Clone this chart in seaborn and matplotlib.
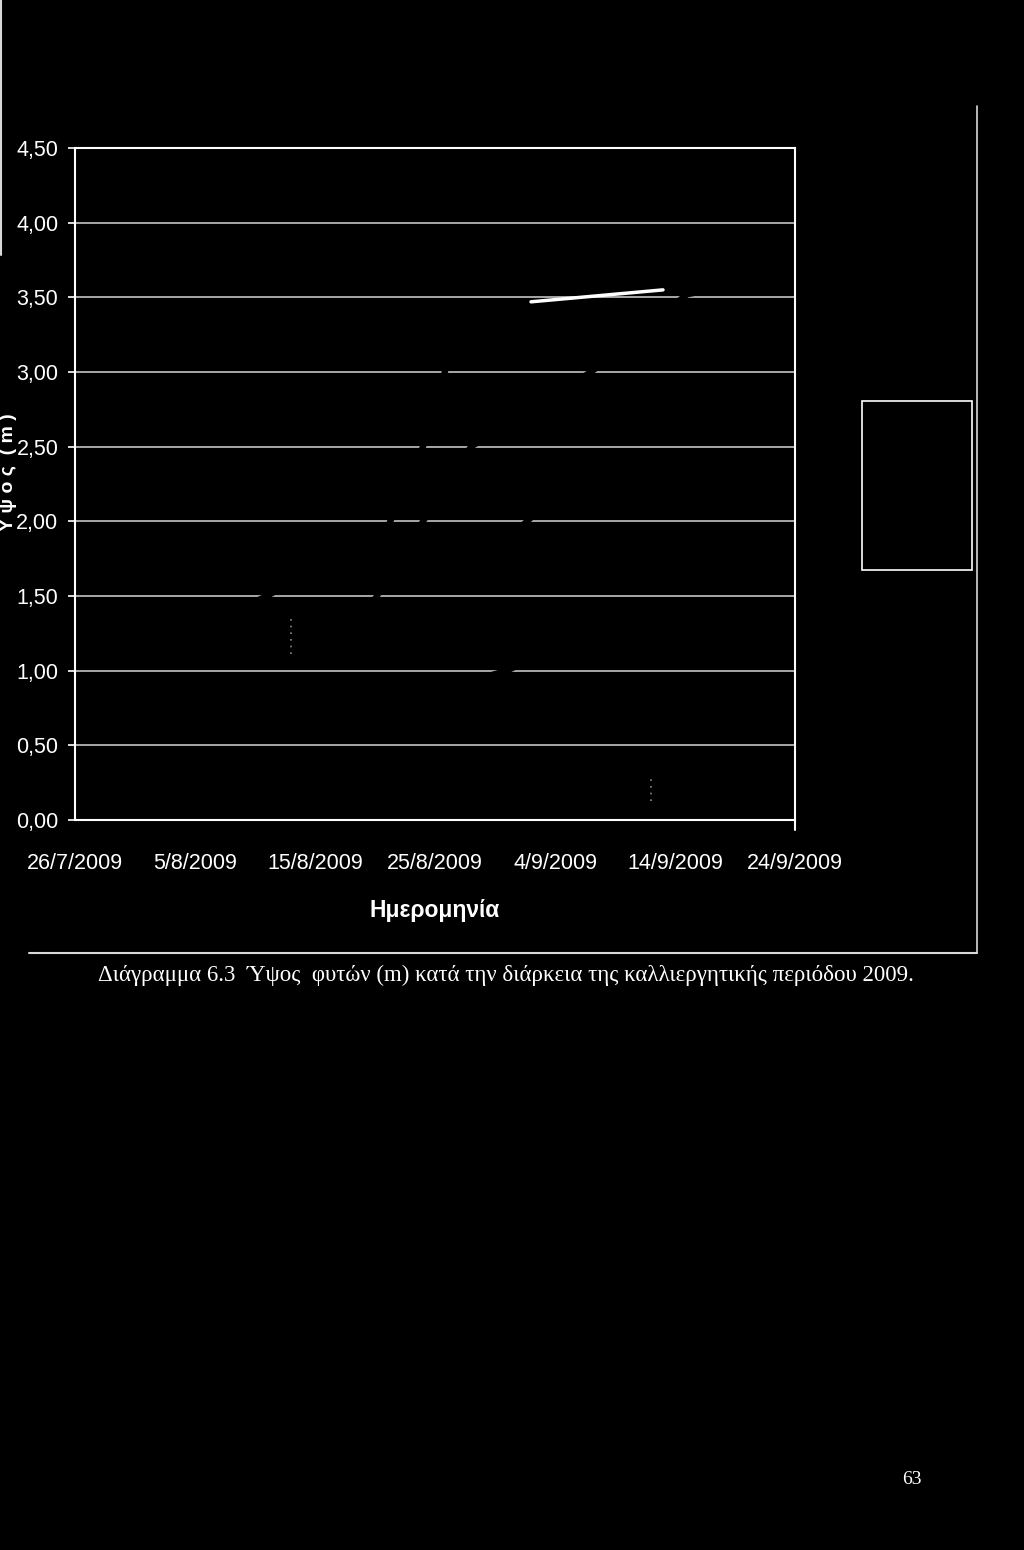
import numpy as np
import pandas as pd
import matplotlib
matplotlib.use("Agg")
import matplotlib.pyplot as plt
from matplotlib.patches import Rectangle
from matplotlib.lines import Line2D
import seaborn as sns

# axis ticks
tick_dates = ["2009-07-26", "2009-08-05", "2009-08-15", "2009-08-25",
              "2009-09-04", "2009-09-14", "2009-09-24"]
tick_labels = ["26/7/2009", "5/8/2009", "15/8/2009", "25/8/2009",
               "4/9/2009", "14/9/2009", "24/9/2009"]
y_ticks = [0.0, 0.5, 1.0, 1.5, 2.0, 2.5, 3.0, 3.5, 4.0, 4.5]
y_labels = ["0,00", "0,50", "1,00", "1,50", "2,00", "2,50", "3,00", "3,50", "4,00", "4,50"]

# light coloured series - on the scan they only show as breaks in the gridlines
s1_dates = ["2009-08-03", "2009-08-11", "2009-08-21", "2009-08-24", "2009-08-26", "2009-09-02"]
s1_vals = [1.20, 1.50, 1.95, 2.50, 3.05, 3.47]
s2_dates = ["2009-08-16", "2009-08-20", "2009-08-24", "2009-08-28", "2009-09-07", "2009-09-15", "2009-09-20"]
s2_vals = [1.30, 1.48, 2.00, 2.50, 3.00, 3.52, 3.60]
s3_dates = ["2009-08-20", "2009-08-31", "2009-09-05"]
s3_vals = [0.75, 1.00, 1.20]
s4_dates = ["2009-08-30", "2009-09-03", "2009-09-08"]
s4_vals = [1.80, 2.10, 2.35]

# the one dark segment that survived
dark_dates = ["2009-09-02", "2009-09-13"]
dark_vals = [3.47, 3.55]

# faint dotted error bars
err_dates = ["2009-08-13", "2009-09-12"]
err_mid = [1.24, 0.215]
err_half = [0.13, 0.085]

sns.set_theme(style="white")
plt.rcParams["font.family"] = ["Liberation Sans", "DejaVu Sans"]

fig = plt.figure(figsize=(10.24, 15.5), dpi=100, facecolor="black")
W, H = 1024, 1550
ax = fig.add_axes([75 / W, 1 - 820 / H, 720 / W, 672 / H])
ax.set_facecolor("black")

lines = pd.concat([
    pd.DataFrame({"date": pd.to_datetime(s1_dates), "h": s1_vals, "s": "s1"}),
    pd.DataFrame({"date": pd.to_datetime(s2_dates), "h": s2_vals, "s": "s2"}),
    pd.DataFrame({"date": pd.to_datetime(s3_dates), "h": s3_vals, "s": "s3"}),
    pd.DataFrame({"date": pd.to_datetime(s4_dates), "h": s4_vals, "s": "s4"}),
])
for yv in y_ticks[1:-1]:
    ax.axhline(yv, color="#d4d4d4", lw=1.1, zorder=1)

sns.lineplot(data=lines, x="date", y="h", units="s", estimator=None,
             color="black", lw=4.5, ax=ax, zorder=2)
sns.lineplot(x=pd.to_datetime(dark_dates), y=dark_vals, color="white", lw=2.5, ax=ax, zorder=3)
eb = ax.errorbar(pd.to_datetime(err_dates), err_mid, yerr=err_half, fmt="none",
                 ecolor="#8a8a8a", elinewidth=1.2, zorder=3)
eb[2][0].set_linestyle((0, (1, 3)))

ax.set_xlim(pd.Timestamp(tick_dates[0]), pd.Timestamp(tick_dates[-1]))
ax.set_ylim(0, 4.5)
ax.set_xticks(pd.to_datetime(tick_dates))
ax.set_xticklabels(tick_labels)
ax.set_yticks(y_ticks)
ax.set_yticklabels(y_labels)
ax.tick_params(axis="y", colors="white", labelcolor="white", labelsize=15.5,
               length=5, width=1.2, pad=7, left=True)
ax.tick_params(axis="x", colors="white", labelcolor="white", labelsize=15.5,
               length=0, pad=24)
for sp in ax.spines.values():
    sp.set_color("white")
    sp.set_linewidth(1.5)
ax.set_xlabel("Ημερομηνία", color="white", fontsize=16.5, fontweight="bold", labelpad=18)
ax.set_ylabel("")

# y label, right at the page edge
fig.text(9 / W, 1 - 472 / H, "Υ ψ ο ς  ( m )", rotation=90, color="white",
         fontsize=14, fontweight="bold", ha="center", va="center")

# right spine runs a bit below the plot
fig.add_artist(Line2D([795 / W, 795 / W], [1 - 820 / H, 1 - 830 / H], color="white", lw=1.5))

# empty legend box
fig.add_artist(Rectangle((862 / W, 1 - 570 / H), 110 / W, 169 / H, fill=False,
                         ec="white", lw=1.2, transform=fig.transFigure))

# chart frame
fig.add_artist(Line2D([977 / W, 977 / W], [1 - 106 / H, 1 - 953 / H], color="#d8d8d8", lw=1.2))
fig.add_artist(Line2D([29 / W, 977 / W], [1 - 953 / H, 1 - 953 / H], color="#d8d8d8", lw=1.5))
fig.add_artist(Line2D([1 / W, 1 / W], [1.0, 1 - 255 / H], color="#d8d8d8", lw=1.5))

fig.text(506 / W, 1 - 975 / H,
         "Διάγραμμα 6.3  Ύψος  φυτών (m) κατά την διάρκεια της καλλιεργητικής περιόδου 2009.",
         color="white", fontsize=16.5, family=["Liberation Serif", "DejaVu Serif"],
         ha="center", va="center")
fig.text(912 / W, 1 - 1480 / H, "63", color="white", fontsize=14,
         family=["Liberation Serif", "DejaVu Serif"], ha="center", va="center")

fig.savefig("out.png", dpi=100, facecolor="black")
